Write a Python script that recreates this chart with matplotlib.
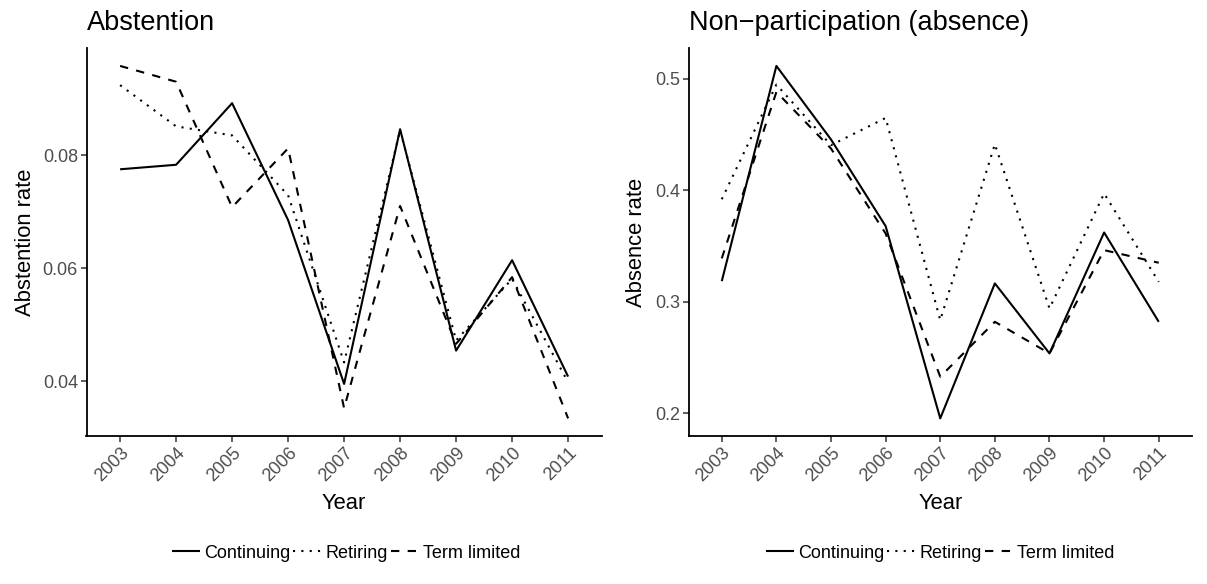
import matplotlib
matplotlib.use("Agg")
import matplotlib.pyplot as plt

plt.rcParams['font.family'] = ['Liberation Sans', 'DejaVu Sans']

years = [2003, 2004, 2005, 2006, 2007, 2008, 2009, 2010, 2011]
groups = ["Continuing", "Retiring", "Term limited"]

# abstention rate by group
abst_continuing = [0.0775, 0.0783, 0.0892, 0.0685, 0.0395, 0.0846, 0.0454, 0.0614, 0.0408]
abst_retiring = [0.0924, 0.0851, 0.0835, 0.0729, 0.0433, 0.0844, 0.0472, 0.0581, 0.0398]
abst_termlim = [0.0958, 0.0930, 0.0708, 0.0812, 0.0352, 0.0710, 0.0466, 0.0584, 0.0334]

# absence rate by group
abs_continuing = [0.3185, 0.5113, 0.4454, 0.3678, 0.1956, 0.3165, 0.2538, 0.3621, 0.2821]
abs_retiring = [0.3919, 0.4946, 0.4403, 0.4647, 0.2836, 0.4412, 0.2941, 0.3970, 0.3179]
abs_termlim = [0.3389, 0.4880, 0.4373, 0.3612, 0.2329, 0.2821, 0.2538, 0.3463, 0.3350]

abst_ticks = [0.04, 0.06, 0.08]
abs_ticks = [0.2, 0.3, 0.4, 0.5]

styles = {
    "Continuing": dict(linestyle='-'),
    "Retiring": dict(linestyle=(0, (1, 3))),
    "Term limited": dict(linestyle=(0, (4, 4))),
}

W, H = 1207, 584
fig = plt.figure(figsize=(W / 100, H / 100), dpi=100)


def px_axes(x0, x1, y0, y1):
    return fig.add_axes([x0 / W, 1 - y1 / H, (x1 - x0) / W, (y1 - y0) / H])


def draw_panel(ax, series, ticks, title, ylabel, ylab_x, legend_x):
    handles = []
    for name, vals in zip(groups, series):
        h, = ax.plot(years, vals, color='black', lw=1.5,
                     solid_capstyle='butt', dash_capstyle='butt', **styles[name])
        handles.append(h)

    lo = min(min(s) for s in series)
    hi = max(max(s) for s in series)
    pad = (hi - lo) * 0.05
    ax.set_ylim(lo - pad, hi + pad)
    ax.set_xlim(years[0] - 0.6, years[-1] + 0.6)

    ax.set_yticks(ticks)
    ax.set_yticklabels([f"{t:g}" for t in ticks])
    ax.set_xticks(years)
    ax.set_xticklabels([str(y) for y in years], rotation=45, ha='right',
                       va='top', rotation_mode='anchor')

    for s in ['top', 'right']:
        ax.spines[s].set_visible(False)
    for s in ['left', 'bottom']:
        ax.spines[s].set_linewidth(1.3)
        ax.spines[s].set_color('black')
    ax.tick_params(axis='both', length=4, width=1.1, color='#333333',
                   labelcolor='#4D4D4D', labelsize=13, pad=2.2)

    ax.set_title(title, loc='left', fontsize=19.5, pad=13.5)
    ax.set_xlabel("Year", fontsize=15.8)
    ax.xaxis.set_label_coords(0.5, -0.147)
    ax.set_ylabel(ylabel, fontsize=15.8)
    ax.yaxis.set_label_coords(ylab_x, 0.5)

    fig.legend(handles, groups, ncol=3, loc='center',
               bbox_to_anchor=(legend_x / W, 1 - 553 / H), frameon=False,
               fontsize=13, handlelength=1.55, handletextpad=0.22,
               columnspacing=0.17)


ax1 = px_axes(86.5, 601.7, 48.3, 436)
draw_panel(ax1, [abst_continuing, abst_retiring, abst_termlim], abst_ticks,
           "Abstention", "Abstention rate", -0.098, 346)

ax2 = px_axes(689, 1191.5, 48.3, 436)
draw_panel(ax2, [abs_continuing, abs_retiring, abs_termlim], abs_ticks,
           "Non\u2212participation (absence)", "Absence rate", -0.0836, 940)

fig.savefig("out.png", dpi=100, facecolor='white')
